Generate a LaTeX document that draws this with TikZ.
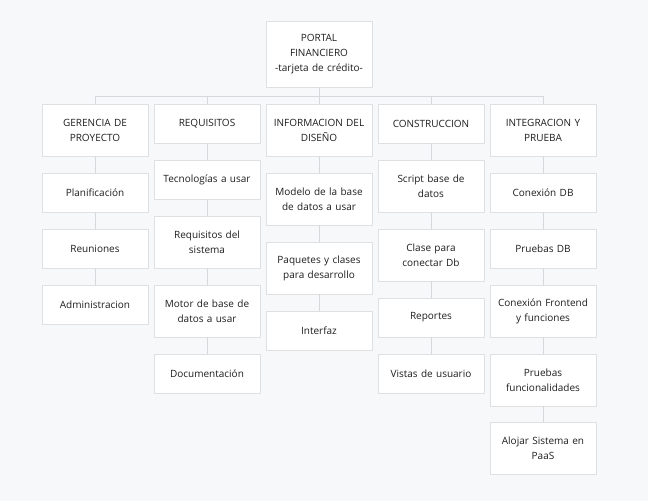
\documentclass[tikz,border=0pt]{standalone}
\usepackage{fontspec}
\setmainfont{Open Sans}
\usepackage{tikz}
\usetikzlibrary{shadows}

\definecolor{bgcol}{HTML}{F7F8FA}
\definecolor{boxline}{HTML}{DFE0E2}
\definecolor{linkcol}{HTML}{D6D8DC}
\definecolor{txtcol}{HTML}{1E1E1E}

\tikzset{
  wbs/.style={draw=boxline, fill=white, line width=0.8pt, text=txtcol,
    minimum width=103pt, text width=106pt, align=center, inner sep=0pt,
    font=\fontsize{10}{15}\selectfont,
    drop shadow={opacity=0.12, shadow xshift=0.6pt, shadow yshift=-0.8pt}},
  oneline/.style={wbs, minimum height=39pt},
  twoline/.style={wbs, minimum height=52pt},
  link/.style={draw=linkcol, line width=0.8pt}
}

\begin{document}
\begin{tikzpicture}[x=1pt, y=-1pt]
  \fill[bgcol] (0,0) rectangle (648,501);
  \useasboundingbox (0,0) rectangle (648,501);

  % raiz
  \node (root) [wbs, minimum height=66pt] at (319,54) {PORTAL\\FINANCIERO\\-tarjeta de crédito-};

  % primer nivel
  \node (gerencia) [twoline] at (95,130) {GERENCIA DE\\PROYECTO};
  \node (requisitos) [oneline] at (207,123.5) {REQUISITOS};
  \node (diseno) [twoline] at (319,130) {INFORMACION DEL\\DISEÑO};
  \node (construccion) [oneline] at (431,123.5) {CONSTRUCCION};
  \node (integracion) [twoline] at (543,130) {INTEGRACION Y\\PRUEBA};

  % gerencia de proyecto
  \node (planif) [oneline] at (95,192.5) {Planificación};
  \node (reun) [oneline] at (95,248.5) {Reuniones};
  \node (admin) [oneline] at (95,304.5) {Administracion};

  % requisitos
  \node (tecno) [oneline] at (207,179.5) {Tecnologías a usar};
  \node (reqsis) [twoline] at (207,242) {Requisitos del\\sistema};
  \node (motor) [twoline] at (207,311) {Motor de base de\\datos a usar};
  \node (docu) [oneline] at (207,373.5) {Documentación};

  % informacion del diseno
  \node (modelo) [twoline] at (319,199) {Modelo de la base\\de datos a usar};
  \node (paquetes) [twoline] at (319,268) {Paquetes y clases\\para desarrollo};
  \node (interfaz) [oneline] at (319,330.5) {Interfaz};

  % construccion
  \node (script) [twoline] at (431,186) {Script base de\\datos};
  \node (clase) [twoline] at (431,255) {Clase para\\conectar Db};
  \node (reportes) [oneline] at (431,317.5) {Reportes};
  \node (vistas) [oneline] at (431,373.5) {Vistas de usuario};

  % integracion y prueba
  \node (condb) [oneline] at (543,192.5) {Conexión DB};
  \node (prudb) [oneline] at (543,248.5) {Pruebas DB};
  \node (confront) [twoline] at (543,311) {Conexión Frontend\\y funciones};
  \node (prufunc) [twoline] at (543,380) {Pruebas\\funcionalidades};
  \node (alojar) [twoline] at (543,448.5) {Alojar Sistema en\\PaaS};

  % conectores
  \coordinate (bus) at (319,96);
  \draw[link] (root.south) -- (bus);
  \draw[link] (gerencia.north |- bus) -- (integracion.north |- bus);
  \foreach \n in {gerencia,requisitos,diseno,construccion,integracion}
    \draw[link] (\n.north |- bus) -- (\n.north);
  \foreach \a/\b in {gerencia/planif, planif/reun, reun/admin,
                     requisitos/tecno, tecno/reqsis, reqsis/motor, motor/docu,
                     diseno/modelo, modelo/paquetes, paquetes/interfaz,
                     construccion/script, script/clase, clase/reportes, reportes/vistas,
                     integracion/condb, condb/prudb, prudb/confront, confront/prufunc, prufunc/alojar}
    \draw[link] (\a.south) -- (\b.north);
\end{tikzpicture}
\end{document}
